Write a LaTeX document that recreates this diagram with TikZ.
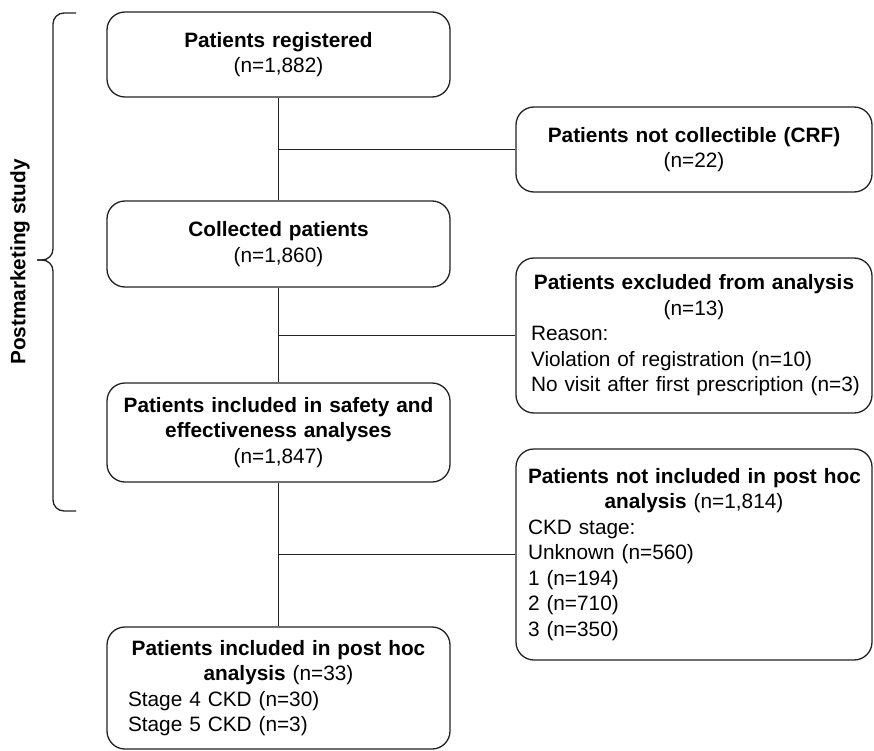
\documentclass[tikz,border=0pt]{standalone}
\usepackage{fontspec}
\setmainfont{Liberation Sans}
\definecolor{linec}{HTML}{222222}
\begin{document}
\begin{tikzpicture}[x=1pt,y=-1pt,
  box/.style={draw=linec, line width=1.3pt, rounded corners=18pt, inner xsep=0pt, inner ysep=0pt,
    font=\fontsize{20.8}{25.5}\selectfont, text=black, align=left},
  link/.style={draw=linec, line width=1.3pt},
  brace/.style={draw=linec, line width=1.3pt, rounded corners=11pt}
]
\useasboundingbox (0,0) rectangle (874,751);

% left column
\node[box, minimum width=343pt, minimum height=85pt, text width=330pt] (A) at (278.5,54.5)
  {{\centering\textbf{Patients registered}\\(n=1,882)\par}};
\node[box, minimum width=343pt, minimum height=86pt, text width=330pt] (C) at (278.5,244)
  {{\centering\textbf{Collected patients}\\(n=1,860)\par}};
\node[box, minimum width=343pt, minimum height=99pt, text width=330pt] (E) at (278.5,432.5)
  {{\centering\textbf{Patients included in safety and}\\\textbf{effectiveness analyses}\\(n=1,847)\par}};
\node[box, minimum width=343pt, minimum height=122pt, text width=301pt] (G) at (278.5,688)
  {{\centering\textbf{Patients included in post hoc}\\\textbf{analysis} (n=33)\par}
   Stage 4 CKD (n=30)\\Stage 5 CKD (n=3)};

% right column
\node[box, minimum width=356pt, minimum height=85pt, text width=340pt] (B) at (694,149.5)
  {{\centering\textbf{Patients not collectible (CRF)}\\(n=22)\par}};
\node[box, minimum width=356pt, minimum height=155pt, text width=326pt] (D) at (694,335.5)
  {{\centering\mbox{\textbf{Patients excluded from analysis}}\\(n=13)\par}
   Reason:\\Violation of registration (n=10)\\\mbox{No visit after first prescription (n=3)}};
\node[box, minimum width=356pt, minimum height=211pt, text width=332pt] (F) at (694,554.5)
  {{\centering\mbox{\textbf{Patients not included in post hoc}}\\\textbf{analysis} (n=1,814)\par}
   CKD stage:\\Unknown (n=560)\\1 (n=194)\\2 (n=710)\\3 (n=350)};

% connectors
\draw[link] (A.south) -- (C.north);
\draw[link] (C.south) -- (E.north);
\draw[link] (E.south) -- (G.north);
\draw[link] (A.south |- B.west) -- (B.west);
\draw[link] (C.south |- D.west) -- (D.west);
\draw[link] (E.south |- F.west) -- (F.west);

% brace and label
\coordinate (bt) at (76,13);
\coordinate (bm) at (37,260);
\coordinate (bb) at (76,511);
\draw[brace] (bt) -- (53,13) -- (53,260) -- (bm);
\draw[brace] (bm) -- (53,260) -- (53,511) -- (bb);
\node[rotate=90, font=\fontsize{20.8}{25}\selectfont\bfseries, inner sep=0pt] (lbl) at (20,262) {Postmarketing study};
\end{tikzpicture}
\end{document}
